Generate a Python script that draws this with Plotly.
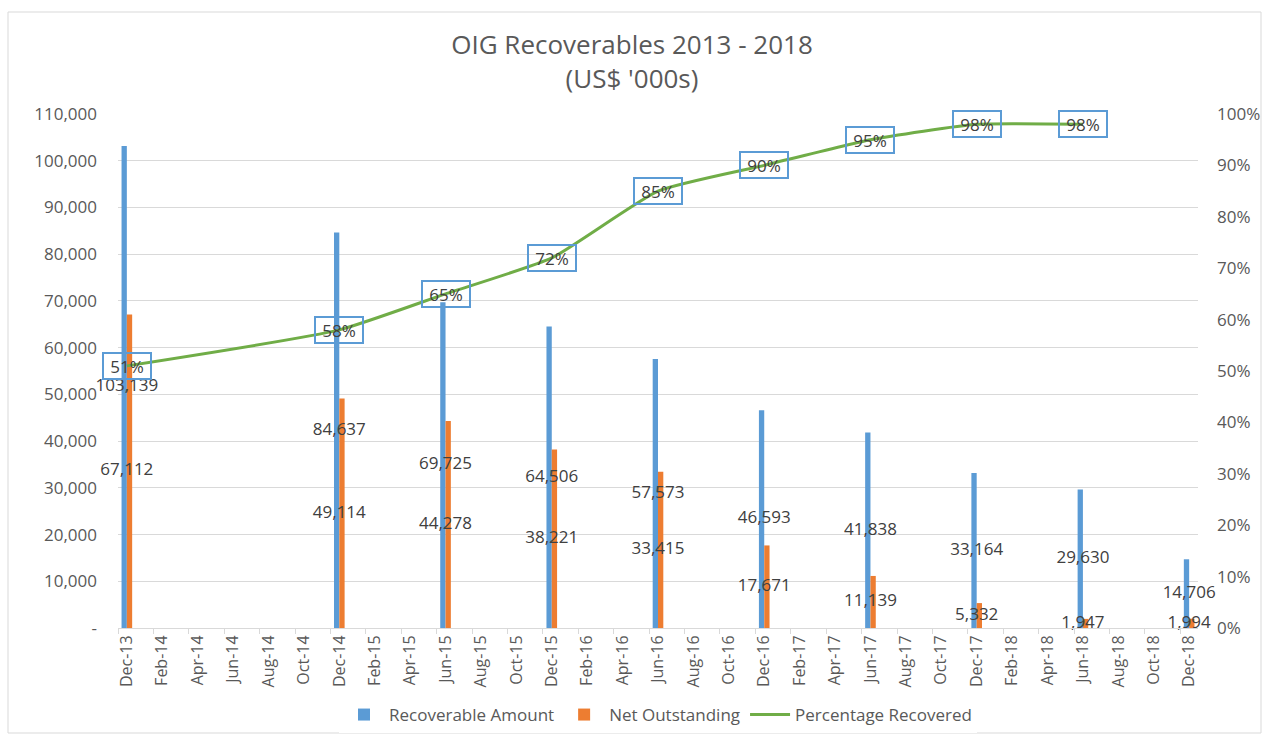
import pandas as pd
import plotly.graph_objects as go

# ---- data ----
months = [d.strftime("%b-%y") for d in pd.date_range("2013-12-01", "2018-12-01", freq="MS")]
bar_dates = ["Dec-13", "Dec-14", "Jun-15", "Dec-15", "Jun-16", "Dec-16", "Jun-17", "Dec-17", "Jun-18", "Dec-18"]
recoverable = [103139, 84637, 69725, 64506, 57573, 46593, 41838, 33164, 29630, 14706]
net_outstanding = [67112, 49114, 44278, 38221, 33415, 17671, 11139, 5332, 1947, 1994]
pct_dates = ["Dec-13", "Dec-14", "Jun-15", "Dec-15", "Jun-16", "Dec-16", "Jun-17", "Dec-17", "Jun-18"]
pct_recovered = [51, 58, 65, 72, 85, 90, 95, 98, 98]
left_ticks = list(range(0, 110001, 10000))
left_ticktext = ["-"] + [f"{v:,}" for v in left_ticks[1:]]

BLUE = "#5B9BD5"
ORANGE = "#ED7D31"
GREEN = "#70AD47"
TXT = "#595959"
LBL = "#404040"
GRID = "#D9D9D9"
FONT = "Open Sans"

fig = go.Figure()
fig.add_trace(go.Bar(x=bar_dates, y=recoverable, name="Recoverable Amount",
                     marker_color=BLUE, marker_line_width=0, hoverinfo="skip"))
fig.add_trace(go.Bar(x=bar_dates, y=net_outstanding, name="Net Outstanding",
                     marker_color=ORANGE, marker_line_width=0, hoverinfo="skip"))
fig.add_trace(go.Scatter(x=pct_dates, y=[p / 100 for p in pct_recovered], name="Percentage Recovered",
                         mode="lines", line=dict(color=GREEN, width=3, shape="spline", smoothing=0.5),
                         yaxis="y2", hoverinfo="skip"))
# data labels centred on bars
fig.add_trace(go.Scatter(x=bar_dates, y=[v / 2 for v in recoverable], mode="text",
                         text=[f"{v:,}" for v in recoverable], textposition="middle center",
                         textfont=dict(family=FONT, size=17, color=LBL), cliponaxis=False,
                         showlegend=False, hoverinfo="skip"))
fig.add_trace(go.Scatter(x=bar_dates, y=[v / 2 for v in net_outstanding], mode="text",
                         text=[f"{v:,}" for v in net_outstanding], textposition="middle center",
                         textfont=dict(family=FONT, size=17, color=LBL), cliponaxis=False,
                         showlegend=False, hoverinfo="skip"))

for d, p in zip(pct_dates, pct_recovered):
    fig.add_annotation(x=d, y=p / 100, xref="x", yref="y2", text=f"{p}%", showarrow=False,
                       font=dict(family=FONT, size=17, color=LBL),
                       bordercolor=BLUE, borderwidth=2, borderpad=2, width=42, height=20,
                       bgcolor="rgba(0,0,0,0)")

W, H = 1264, 735
L, R, T, B = 118, 66, 114, 107
pw, ph = W - L - R, H - T - B

fig.add_shape(type="rect", xref="paper", yref="paper",
              x0=(8 - L) / pw, x1=(1261 - L) / pw, y0=-(733 - (H - B)) / ph, y1=(H - B - 12) / ph,
              line=dict(color=GRID, width=1), fillcolor="rgba(0,0,0,0)", layer="below")

fig.update_layout(
    width=W, height=H, margin=dict(l=L, r=R, t=T, b=B, autoexpand=False),
    paper_bgcolor="white", plot_bgcolor="white",
    font=dict(family=FONT, color=TXT),
    title=dict(text="OIG Recoverables 2013 - 2018<br>(US$ '000s)", x=0.5, xanchor="center",
               y=1 - 54 / H, yanchor="top", font=dict(family=FONT, size=26, color=TXT)),
    barmode="group", bargap=0.4, bargroupgap=0,
    xaxis=dict(type="category", categoryorder="array", categoryarray=months,
               range=[-0.5, len(months) - 0.5], tickmode="linear", tick0=0, dtick=2,
               tickson="boundaries", ticks="outside", ticklen=5, tickcolor=GRID,
               showline=True, linecolor=GRID, linewidth=1, showgrid=False, automargin=False,
               tickangle=-90, tickfont=dict(family=FONT, size=16, color=TXT)),
    yaxis=dict(range=[0, 110000], tickmode="array", tickvals=left_ticks, ticktext=left_ticktext,
               showgrid=True, gridcolor=GRID, gridwidth=1, zeroline=False, showline=False,
               automargin=False, ticklabelstandoff=20, tickfont=dict(family=FONT, size=17, color=TXT)),
    yaxis2=dict(range=[0, 1], overlaying="y", side="right", tickformat=".0%", dtick=0.1, tick0=0,
                showgrid=False, zeroline=False, showline=False, automargin=False, ticklabelstandoff=18,
                tickfont=dict(family=FONT, size=17, color=TXT)),
    legend=dict(orientation="h", x=0.5, xanchor="center", y=-(715 - (H - B)) / ph, yanchor="middle",
                font=dict(family=FONT, size=17, color=TXT), itemwidth=40, traceorder="normal"),
)

fig.write_html("out.html", config={"displayModeBar": False},
               post_script="document.body.style.margin='0';")
